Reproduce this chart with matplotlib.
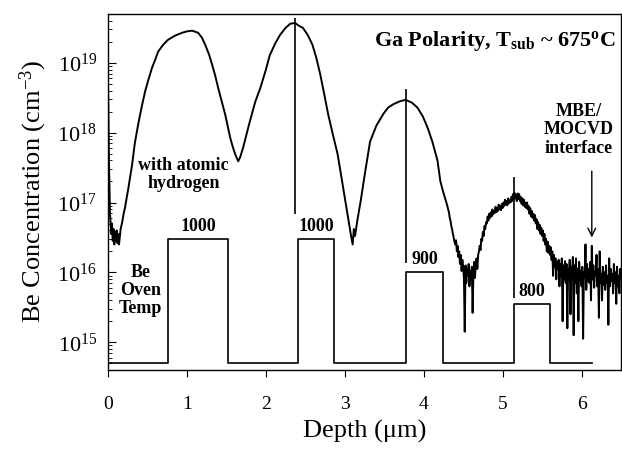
import matplotlib
matplotlib.use("Agg")
import matplotlib.pyplot as plt
import numpy as np

plt.rcParams['font.family'] = ['Liberation Serif', 'DejaVu Serif']
plt.rcParams['mathtext.fontset'] = 'custom'
plt.rcParams['mathtext.rm'] = 'Liberation Serif'
plt.rcParams['mathtext.it'] = 'Liberation Serif:italic'
plt.rcParams['mathtext.bf'] = 'Liberation Serif:bold'

# SIMS Be profile, smooth part (depth in um, log10 of concentration)
depth_a = [0.000, 0.012, 0.025, 0.04, 0.05, 0.06, 0.07, 0.08, 0.09, 0.10,
           0.11, 0.12, 0.13, 0.14, 0.16, 0.18, 0.20, 0.216, 0.26, 0.305,
           0.34, 0.381, 0.425, 0.47, 0.515, 0.558, 0.60, 0.635, 0.70, 0.761,
           0.85, 0.939, 1.00, 1.066, 1.142, 1.19, 1.231, 1.28, 1.32, 1.36,
           1.396, 1.44, 1.485, 1.548, 1.58, 1.612, 1.65, 1.675, 1.713, 1.79,
           1.865, 1.93, 2.00, 2.05, 2.12, 2.18, 2.25, 2.31, 2.37, 2.42,
           2.47, 2.53, 2.59, 2.64, 2.69, 2.74, 2.79, 2.85, 2.91, 2.98,
           3.05, 3.08, 3.10, 3.115, 3.13, 3.16, 3.20, 3.26, 3.32, 3.40,
           3.49, 3.55, 3.62, 3.70, 3.77, 3.85, 3.92, 3.99, 4.05, 4.11,
           4.175, 4.21, 4.24]
logc_a = [18.75, 17.60, 16.85, 16.55, 16.70, 16.45, 16.62, 16.40, 16.58, 16.45,
          16.60, 16.42, 16.55, 16.40, 16.62, 16.72, 16.85, 16.93, 17.22, 17.54,
          17.85, 18.11, 18.36, 18.59, 18.77, 18.93, 19.05, 19.16, 19.26, 19.33,
          19.39, 19.43, 19.45, 19.46, 19.43, 19.36, 19.26, 19.12, 18.97, 18.81,
          18.64, 18.45, 18.26, 17.93, 17.80, 17.69, 17.59, 17.65, 17.79, 18.13,
          18.44, 18.64, 18.90, 19.11, 19.28, 19.40, 19.50, 19.56, 19.57, 19.53,
          19.50, 19.40, 19.26, 19.07, 18.83, 18.55, 18.26, 17.97, 17.69, 17.21,
          16.73, 16.52, 16.40, 16.62, 16.52, 16.75, 17.01, 17.45, 17.87, 18.10,
          18.27, 18.36, 18.41, 18.45, 18.47, 18.43, 18.36, 18.23, 18.07, 17.87,
          17.60, 17.31, 17.18]

# noisy deep part, read every 0.01 um from 4.30 to 6.50
depth_b = np.round(np.arange(4.30, 6.505, 0.01), 2)
logc_b = [16.95, 16.90, 16.86, 16.78, 16.74, 16.66, 16.62, 16.55, 16.50, 16.44,
          16.40, 16.46, 16.30, 16.38, 16.22, 16.30, 16.12, 16.25, 16.02, 16.18,
          16.08, 15.92, 15.15, 16.10, 15.85, 16.05, 15.95, 16.12, 15.80, 16.02,
          15.90, 16.08, 15.42, 16.00, 16.15, 15.92, 16.10, 16.20, 16.05, 16.25,
          16.30, 16.38, 16.32, 16.48, 16.45, 16.58, 16.52, 16.66, 16.62, 16.72,
          16.70, 16.80, 16.74, 16.84, 16.78, 16.86, 16.80, 16.90, 16.83, 16.88,
          16.85, 16.94, 16.86, 16.92, 16.88, 16.97, 16.90, 16.95, 16.89, 16.98,
          16.92, 17.00, 16.95, 17.04, 16.97, 17.02, 16.96, 17.06, 16.99, 17.03,
          17.00, 17.08, 17.02, 17.12, 17.04, 17.14, 17.06, 17.10, 17.02, 17.13,
          17.05, 17.12, 17.02, 17.08, 16.98, 17.06, 16.96, 17.04, 16.94, 17.00,
          16.92, 17.00, 16.90, 16.95, 16.84, 16.92, 16.80, 16.88, 16.78, 16.84,
          16.74, 16.82, 16.70, 16.76, 16.62, 16.72, 16.60, 16.68, 16.55, 16.64,
          16.52, 16.60, 16.45, 16.55, 16.40, 16.48, 16.30, 16.44, 16.28, 16.38,
          16.25, 16.36, 16.18, 16.30, 15.95, 16.25, 16.08, 16.20, 15.90, 16.15,
          16.05, 16.18, 15.80, 16.12, 15.95, 16.20, 15.30, 16.10, 15.90, 16.16,
          15.85, 16.12, 15.20, 16.05, 15.92, 16.18, 15.40, 16.08, 15.95, 16.22,
          15.10, 16.10, 15.85, 16.20, 15.70, 16.05, 15.30, 16.15, 15.90, 16.02,
          15.80, 16.08, 15.05, 16.00, 15.92, 16.40, 15.75, 16.12, 15.88, 16.05,
          15.85, 16.15, 15.60, 16.38, 15.90, 16.10, 15.78, 16.02, 15.95, 16.25,
          15.80, 16.05, 15.35, 16.30, 15.85, 15.98, 15.60, 16.08, 15.82, 16.00,
          15.75, 16.10, 15.85, 15.95, 15.25, 16.20, 15.80, 16.05, 15.88, 15.98,
          15.70, 16.12, 15.85, 16.00, 15.55, 16.08, 15.80, 15.95, 15.70, 16.05,
          15.92]

# Be oven temperature schedule (drawn as steps)
step_edges = [0.0, 0.76, 1.52, 2.41, 2.86, 3.78, 4.24, 5.14, 5.60, 6.13]
step_levels = [5e14, 3e16, 5e14, 3e16, 5e14, 1e16, 5e14, 3.5e15, 5e14, 5e14]
oven_temps = ['1000', '1000', '900', '800']
temp_depth = [1.14, 2.635, 4.01, 5.37]
temp_level = [3e16, 3e16, 1e16, 3.5e15]

# vertical marker lines
mark_depth = [2.37, 3.77, 5.14]
mark_low = [10**16.84, 10**16.13, 10**15.63]
mark_high = [10**19.64, 10**18.63, 10**17.36]

depth = np.concatenate([depth_a, depth_b])
conc = 10 ** np.concatenate([logc_a, logc_b])

fig = plt.figure(figsize=(6.22, 4.51), dpi=100)
ax = fig.add_axes([108/622, 1-370/451, 513/622, 356/451])

ax.semilogy(depth, conc, color='black', lw=1.4)
ax.plot(step_edges, step_levels, drawstyle='steps-post', color='black', lw=1.2)
ax.vlines(mark_depth, mark_low, mark_high, color='black', lw=1.2)

bold = dict(fontweight='bold', fontsize=13, color='black')
for t, xd, yl in zip(oven_temps, temp_depth, temp_level):
    ax.annotate(t, (xd, yl), xytext=(0, 3), textcoords='offset points',
                ha='center', va='bottom', **bold)

ax.text(0.96, 2.5e17, 'with atomic\nhydrogen', ha='center', va='center',
        linespacing=1.05, **bold)
ax.text(0.41, 5.5e15, 'Be\nOven\nTemp', ha='center', va='center',
        linespacing=1.1, **bold)
ax.text(5.96, 1.1e18, 'MBE/\nMOCVD\ninterface', ha='center', va='center',
        linespacing=1.1, **bold)
ax.text(6.43, 1.75e19, r'Ga Polarity, T$_{\mathbf{sub}}$ ~ 675$^{\mathbf{o}}$C',
        ha='right', va='baseline', fontweight='bold', fontsize=16)
ax.annotate('', xy=(6.13, 10**16.46), xytext=(6.13, 10**17.49),
            arrowprops=dict(arrowstyle='->', color='black', lw=1.0,
                            mutation_scale=14))

ax.set_xlim(0, 6.5)
ax.set_ylim(4e14, 5e19)
ax.set_xticks(range(7))
ax.tick_params(axis='x', direction='out', length=5, pad=14, labelsize=14)
ax.tick_params(axis='y', which='major', direction='in', length=6, pad=8,
               labelsize=16)
ax.tick_params(axis='y', which='minor', direction='in', length=3)
ax.tick_params(axis='x', which='minor', bottom=False)

for sp in ax.spines.values():
    sp.set_linewidth(1.0)

ax.set_xlabel('Depth (μm)', fontsize=19, labelpad=5)
ax.set_ylabel(r'Be Concentration (cm$^{-3}$)', fontsize=19, labelpad=6)

fig.savefig('out.png', dpi=100)
